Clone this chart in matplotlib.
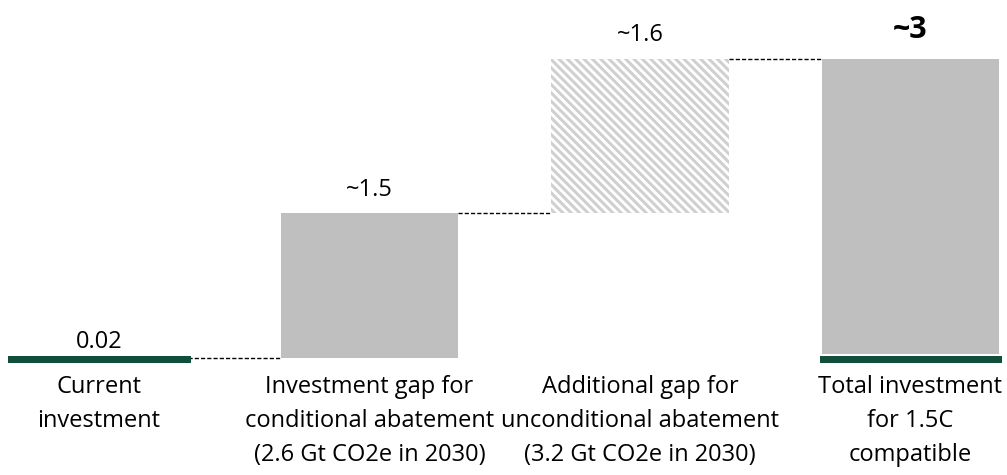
import matplotlib
matplotlib.use("Agg")
import matplotlib.pyplot as plt
import matplotlib.patheffects as pe

plt.rcParams['font.family'] = ['Open Sans', 'DejaVu Sans']
plt.rcParams['hatch.linewidth'] = 2.2
plt.rcParams['hatch.color'] = '#d0d0d0'

# Waterfall data
categories = ["Current\ninvestment",
              "Investment gap for\nconditional abatement\n(2.6 Gt CO2e in 2030)",
              "Additional gap for\nunconditional abatement\n(3.2 Gt CO2e in 2030)",
              "Total investment\nfor 1.5C\ncompatible"]
current = 0.02
gap_conditional = 1.5
gap_unconditional = 1.6
total = current + gap_conditional + gap_unconditional
value_labels = ["0.02", "~1.5", "~1.6", "~3"]

GREEN = '#124e3c'
GREY = '#bfbfbf'

fig = plt.figure(figsize=(10.07, 4.75), dpi=100)
ax = fig.add_axes([0, 0, 1, 1])
ax.set_xlim(-0.366, 3.357)
ax.set_ylim(-1.192, 3.731)
ax.axis('off')

w = 0.657
x = [0, 1, 2, 3]

# Current investment
ax.bar(x[0], current, width=w, bottom=0, color=GREEN, edgecolor=GREEN,
       linewidth=3.6, zorder=3)
# Conditional gap
ax.bar(x[1], gap_conditional, width=w, bottom=current, color=GREY,
       linewidth=0, zorder=2)
# Unconditional gap (hatched)
ax.bar(x[2], gap_unconditional, width=w, bottom=current + gap_conditional,
       color='white', edgecolor='#d0d0d0', hatch='\\\\\\\\', linewidth=0,
       zorder=2)
# Total
ax.bar(x[3], total - current, width=w, bottom=current, color=GREY,
       linewidth=0, zorder=2)
tb = ax.bar(x[3], current, width=w, bottom=0, color=GREEN, edgecolor=GREEN,
            linewidth=3.6, zorder=3)
for p in tb:
    p.set_path_effects([pe.Stroke(linewidth=6.5, foreground='white'), pe.Normal()])

# Connectors
levels = [current, current + gap_conditional, total]
for i, lvl in enumerate(levels):
    ax.plot([x[i] + w / 2, x[i + 1] - w / 2], [lvl, lvl], color='black',
            linestyle=(0, (3, 1.5)), linewidth=1.0, zorder=1)

# Value labels
tops = [current, current + gap_conditional, total, total]
for i, (t, lab) in enumerate(zip(tops, value_labels)):
    if i == 3:
        ax.text(x[i], t + 0.14, lab, ha='center', va='bottom', fontsize=22,
                fontweight='bold')
    elif i == 0:
        ax.text(x[i], t + 0.04, lab, ha='center', va='bottom', fontsize=17)
    else:
        ax.text(x[i], t + 0.12, lab, ha='center', va='bottom', fontsize=17)

# Category labels
for xi, cat in zip(x, categories):
    ax.text(xi, -0.16, cat, ha='center', va='top', fontsize=17,
            linespacing=1.55)

fig.savefig('out.png', dpi=100)
